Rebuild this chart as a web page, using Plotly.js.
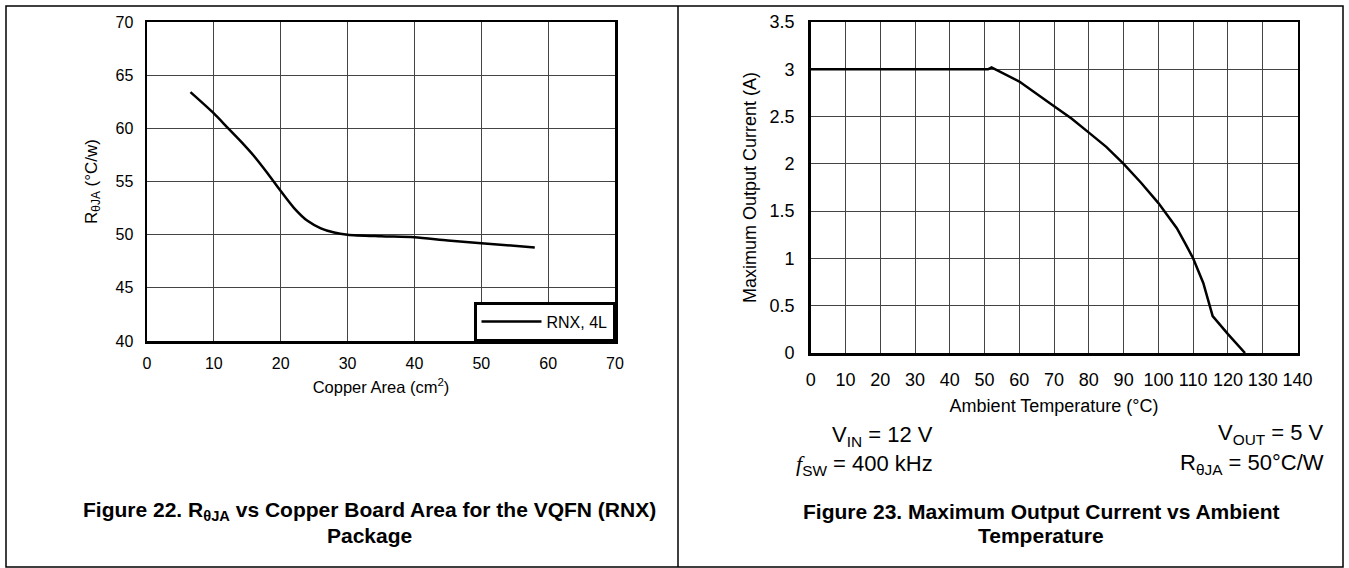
<!DOCTYPE html>
<html>
<head>
<meta charset="utf-8">
<script src="https://cdn.plot.ly/plotly-3.0.1.min.js"></script>
<style>html,body{margin:0;padding:0;background:#fff;}#chart{width:1349px;height:568px;}</style>
</head>
<body>
<div id="chart"></div>
<script>
// ---- Data ----
var copperArea = [6.5, 10, 12, 14, 16, 18, 20, 22, 24, 26, 28, 30, 35, 40, 45, 50, 58];
var rThetaJA   = [63.4, 61.4, 60.1, 58.8, 57.4, 55.8, 54.1, 52.5, 51.3, 50.6, 50.2, 50.0, 49.85, 49.75, 49.45, 49.2, 48.8];
var ambientTemp = [0, 51, 52, 60, 70, 75, 80, 85, 90, 95, 100, 105.3, 107.7, 110, 112.9, 114.8, 115.6, 120, 124.9];
var maxCurrent  = [3.0, 3.0, 3.02, 2.87, 2.61, 2.48, 2.33, 2.18, 2.0, 1.80, 1.585, 1.32, 1.16, 1.0, 0.74, 0.51, 0.39, 0.20, 0];
var leftXTicks  = [0, 10, 20, 30, 40, 50, 60, 70];
var leftYTicks  = [40, 45, 50, 55, 60, 65, 70];
var rightXTicks = [0, 10, 20, 30, 40, 50, 60, 70, 80, 90, 100, 110, 120, 130, 140];
var rightYTicks = [0, 0.5, 1, 1.5, 2, 2.5, 3, 3.5];
var rightYLabels = ['0', '0.5', '1', '1.5', '2', '2.5', '3', '3.5'];

// ---- Layout helpers (pixel -> paper) ----
var W = 1349, H = 568;
function px(x) { return x / W; }
function py(y) { return 1 - y / H; }
var FONT = 'Liberation Sans, Arial, Helvetica, sans-serif';
var GRID = '#444';

function axisBase(fontSize, extra) {
  var a = {
    showgrid: true, gridcolor: GRID, gridwidth: 1,
    showline: true, linecolor: '#000', linewidth: 2.5, mirror: true,
    zeroline: false, ticks: '', fixedrange: true,
    tickfont: { family: FONT, size: fontSize, color: '#000' }
  };
  for (var k in extra) a[k] = extra[k];
  return a;
}

var traces = [
  { x: copperArea, y: rThetaJA, xaxis: 'x', yaxis: 'y', type: 'scatter', mode: 'lines',
    name: 'RNX, 4L', line: { color: '#000', width: 2.5, shape: 'spline', smoothing: 0.8 } },
  { x: ambientTemp, y: maxCurrent, xaxis: 'x2', yaxis: 'y2', type: 'scatter', mode: 'lines',
    name: 'Max current', showlegend: false, line: { color: '#000', width: 2.5 } }
];

var layout = {
  width: W, height: H,
  margin: { l: 0, r: 0, t: 0, b: 0 },
  paper_bgcolor: '#fff', plot_bgcolor: '#fff',
  font: { family: FONT, size: 16, color: '#000' },
  showlegend: true,
  legend: {
    x: px(615), y: py(341), xanchor: 'right', yanchor: 'bottom',
    bgcolor: '#fff', bordercolor: '#000', borderwidth: 2.5,
    font: { family: FONT, size: 16, color: '#000' },
    itemwidth: 60
  },
  xaxis: axisBase(16, {
    domain: [px(147), px(615)], anchor: 'y', range: [0, 70],
    tickmode: 'array', tickvals: leftXTicks, ticklabelstandoff: 6,
    title: { text: 'Copper Area (cm<sup>2</sup>)', font: { family: FONT, size: 16.5 }, standoff: 11 }
  }),
  yaxis: axisBase(16, {
    domain: [py(341), py(22)], anchor: 'x', range: [40, 70],
    tickmode: 'array', tickvals: leftYTicks, ticklabelstandoff: 8,
    title: { text: 'R<sub>θJA</sub> (°C/w)', font: { family: FONT, size: 17 }, standoff: 14 }
  }),
  xaxis2: axisBase(18, {
    domain: [px(810.7), px(1297.5)], anchor: 'y2', range: [0, 140],
    tickmode: 'array', tickvals: rightXTicks, ticklabelstandoff: 9,
    title: { text: 'Ambient Temperature (°C)', font: { family: FONT, size: 18 }, standoff: 11 }
  }),
  yaxis2: axisBase(18, {
    domain: [py(353), py(22)], anchor: 'x2', range: [0, 3.5],
    tickmode: 'array', tickvals: rightYTicks, ticktext: rightYLabels, ticklabelstandoff: 10,
    title: { text: 'Maximum Output Current (A)', font: { family: FONT, size: 18 }, standoff: 9 }
  }),
  shapes: [
    { type: 'rect', xref: 'paper', yref: 'paper', x0: px(6), x1: px(1343), y0: py(567), y1: py(6),
      line: { color: '#000', width: 1.5 } },
    { type: 'line', xref: 'paper', yref: 'paper', x0: px(678), x1: px(678), y0: py(567), y1: py(6),
      line: { color: '#000', width: 1.5 } }
  ],
  annotations: [
    { xref: 'paper', yref: 'paper', x: px(935), y: py(436), xanchor: 'right', yanchor: 'middle',
      showarrow: false, text: 'V<sub>IN</sub> = 12 V', font: { family: FONT, size: 22 } },
    { xref: 'paper', yref: 'paper', x: px(935), y: py(465), xanchor: 'right', yanchor: 'middle',
      showarrow: false,
      text: '<span style="font-family:Liberation Serif, Times New Roman, serif"><i>f</i></span><sub>SW</sub> = 400 kHz',
      font: { family: FONT, size: 22 } },
    { xref: 'paper', yref: 'paper', x: px(1326), y: py(434), xanchor: 'right', yanchor: 'middle',
      showarrow: false, text: 'V<sub>OUT</sub> = 5 V', font: { family: FONT, size: 22 } },
    { xref: 'paper', yref: 'paper', x: px(1326), y: py(464), xanchor: 'right', yanchor: 'middle',
      showarrow: false, text: 'R<sub>θJA</sub> = 50°C/W', font: { family: FONT, size: 22 } },
    { xref: 'paper', yref: 'paper', x: px(369), y: py(511), xanchor: 'center', yanchor: 'middle',
      showarrow: false, text: '<b>Figure 22. R<sub>θJA</sub> vs Copper Board Area for the VQFN (RNX)</b>',
      font: { family: FONT, size: 21 } },
    { xref: 'paper', yref: 'paper', x: px(369), y: py(535), xanchor: 'center', yanchor: 'middle',
      showarrow: false, text: '<b>Package</b>', font: { family: FONT, size: 21 } },
    { xref: 'paper', yref: 'paper', x: px(1041), y: py(511), xanchor: 'center', yanchor: 'middle',
      showarrow: false, text: '<b>Figure 23. Maximum Output Current vs Ambient</b>', font: { family: FONT, size: 21 } },
    { xref: 'paper', yref: 'paper', x: px(1041), y: py(535), xanchor: 'center', yanchor: 'middle',
      showarrow: false, text: '<b>Temperature</b>', font: { family: FONT, size: 21 } }
  ]
};

Plotly.newPlot('chart', traces, layout, { displayModeBar: false, staticPlot: true });
</script>
</body>
</html>
